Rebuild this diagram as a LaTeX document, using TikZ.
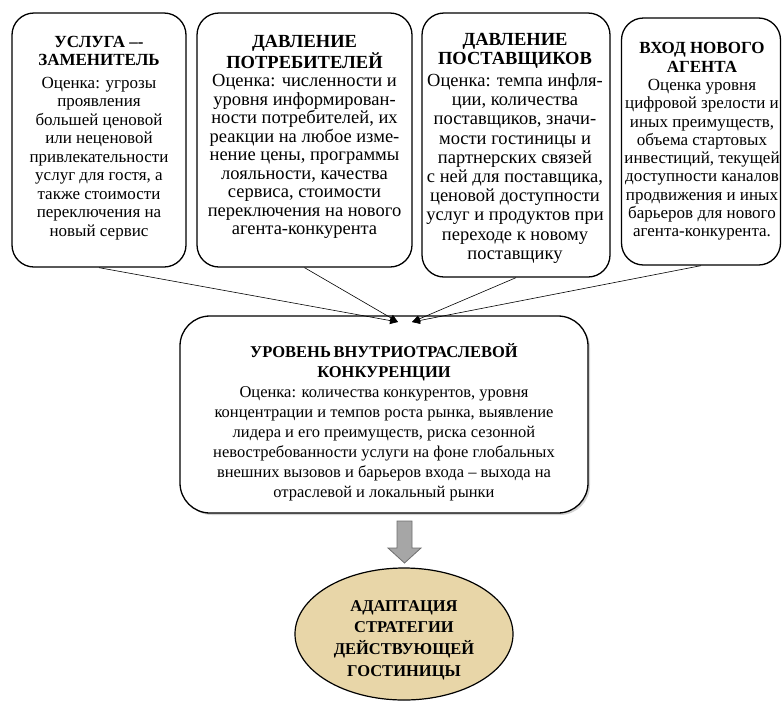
\documentclass[tikz,border=0pt]{standalone}
\usepackage{fontspec}
\setmainfont{Liberation Serif}
\usetikzlibrary{arrows.meta,shadows,shapes.geometric}
\definecolor{papyrus}{HTML}{E8D6A8}
\definecolor{arrowgrey}{HTML}{A6A6A6}
\definecolor{arrowedge}{HTML}{6E6E6E}
\newcommand\mytightsp{\spaceskip=0.16em plus 0.05em\relax}
\begin{document}
\begin{tikzpicture}[x=1pt,y=-1pt,
  box/.style={draw=black, line width=1.3pt, rounded corners=22pt, inner sep=0pt, fill=white},
  cbox/.style={box, rounded corners=30pt, drop shadow={opacity=0.35, shadow xshift=2pt, shadow yshift=-2pt}},
  txt/.style={align=center, inner sep=0pt},
  ctxt/.style={align=center, inner sep=0pt, font=\fontsize{16.5}{20}\selectfont},
  etxt/.style={align=center, inner sep=0pt, font=\fontsize{16.5}{21.7}\selectfont\bfseries},
  conn/.style={draw=black, line width=0.6pt, -{Triangle[length=8pt,width=7pt]}}
]
\useasboundingbox (0,0) rectangle (783,702);
% top boxes
\node[box, minimum width=174pt, minimum height=254pt] (b1) at (99,140) {};
\node[box, minimum width=215pt, minimum height=254pt] (b2) at (304.5,140) {};
\node[box, minimum width=188pt, minimum height=264pt] (b3) at (516,145) {};
\node[box, minimum width=159pt, minimum height=247pt] (b4) at (701,141.5) {};
\node[txt, font=\fontsize{17}{18.5}\selectfont] (t1) at (99,138) {\textbf{УСЛУГА –-}\\\textbf{ЗАМЕНИТЕЛЬ}\\[4pt]Оценка: угрозы\\проявления\\большей ценовой\\или неценовой\\привлекательности\\услуг для гостя, а\\также стоимости\\переключения на\\новый сервис};
\node[txt, font=\fontsize{18.5}{18.5}\selectfont] (t2) at (304.5,137) {\textbf{ДАВЛЕНИЕ}\\\textbf{ПОТРЕБИТЕЛЕЙ}\\Оценка: численности и\\уровня информирован-\\ности потребителей, их\\реакции на любое изме-\\нение цены, программы\\лояльности, качества\\сервиса, стоимости\\переключения на нового\\агента-конкурента};
\node[txt, font=\fontsize{18.5}{19.2}\selectfont] (t3) at (515,148) {\textbf{ДАВЛЕНИЕ}\\\textbf{ПОСТАВЩИКОВ}\\[3pt]Оценка: темпа инфля-\\ции, количества\\поставщиков, значи-\\мости гостиницы и\\партнерских связей\\с ней для поставщика,\\ценовой доступности\\услуг и продуктов при\\переходе к новому\\поставщику};
\node[txt, font=\fontsize{17}{18.3}\selectfont] (t4) at (702,141.5) {\textbf{ВХОД НОВОГО}\\\textbf{АГЕНТА}\\Оценка уровня\\цифровой зрелости и\\иных преимуществ,\\объема стартовых\\инвестиций, текущей\\доступности каналов\\продвижения и иных\\барьеров для нового\\агента-конкурента.};
% central box
\node[cbox, minimum width=408pt, minimum height=197pt] (c) at (384,414.5) {};
\node[ctxt] (tc) at (384,422) {\mytightsp\textbf{УРОВЕНЬ ВНУТРИОТРАСЛЕВОЙ}\\\textbf{КОНКУРЕНЦИИ}\\Оценка: количества конкурентов, уровня\\концентрации и темпов роста рынка, выявление\\лидера и его преимуществ, риска сезонной\\невостребованности услуги на фоне глобальных\\внешних вызовов и барьеров входа – выхода на\\отраслевой и локальный рынки};
% connectors
\coordinate (p1) at (398,322);
\coordinate (p2) at (412,322);
\draw[conn] (b1.south) -- (p1);
\draw[conn] (b2.south) -- (p1);
\draw[conn] (b3.south) -- (p2);
\draw[conn] (b4.south) -- (p2);
% block arrow
\draw[fill=arrowgrey, draw=arrowedge, line width=0.8pt] (397,521) -- (412,521) -- (412,548) -- (421,548) -- (404.5,563) -- (388,548) -- (397,548) -- cycle;
% ellipse
\node[ellipse, draw=black, line width=1.2pt, fill=papyrus, minimum width=218pt, minimum height=132pt, inner sep=0pt] (e) at (404,634) {};
\node[etxt] (te) at (404,640) {АДАПТАЦИЯ\\СТРАТЕГИИ\\ДЕЙСТВУЮЩЕЙ\\ГОСТИНИЦЫ};
\end{tikzpicture}
\end{document}
